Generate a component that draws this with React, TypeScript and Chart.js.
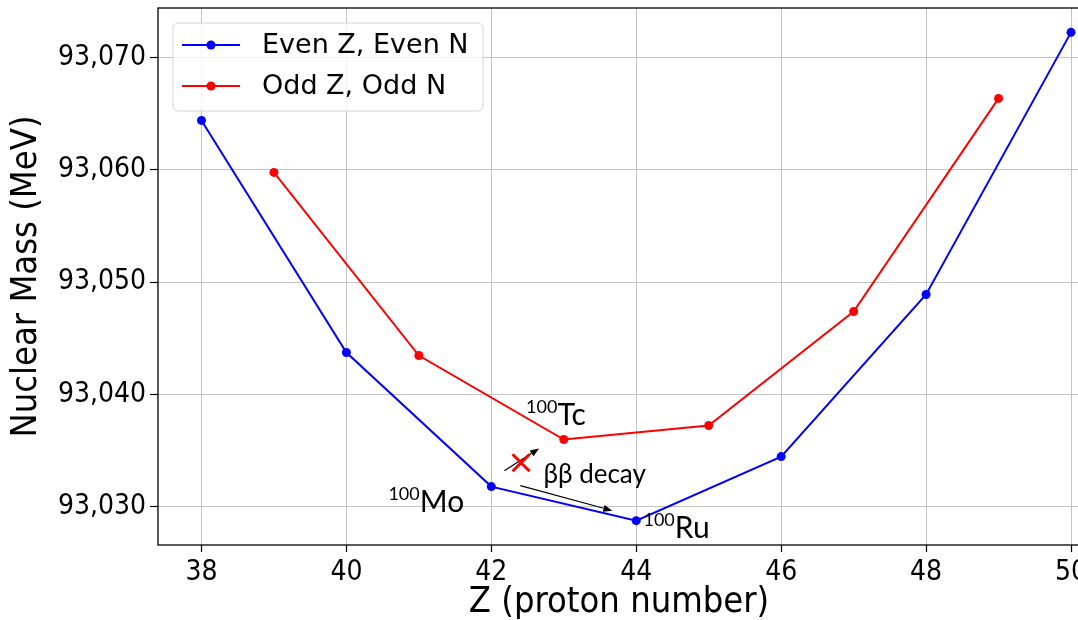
import React, { useEffect, useRef } from "react";
import { Chart, registerables } from "chart.js";

Chart.register(...registerables);

// ---- data ----
const evenZ = [38, 40, 42, 44, 46, 48, 50];
const evenMass = [93064.39, 93043.72, 93031.78, 93028.75, 93034.45, 93048.89, 93072.23];
const oddZ = [39, 41, 43, 45, 47, 49];
const oddMass = [93059.76, 93043.45, 93035.97, 93037.22, 93047.37, 93066.35];
const xTicks = [38, 40, 42, 44, 46, 48, 50];
const yTicks = [93030, 93040, 93050, 93060, 93070];
const seriesLabels = ["Even Z, Even N", "Odd Z, Odd N"];
const seriesColors = ["#0000ff", "#ff0000"];
const xTitle = "Z (proton number)";
const yTitle = "Nuclear Mass (MeV)";

// annotations in data coordinates
const nuclideLabels = [
  { sup: "100", base: "Tc", x: 42.48, y: 93037.3 },
  { sup: "100", base: "Mo", x: 40.58, y: 93029.55 },
  { sup: "100", base: "Ru", x: 44.1, y: 93027.24 },
];
const decayText = { text: "ββ decay", x: 42.72, y: 93032.14 };
const forbiddenMark = { x: 42.41, y: 93033.9 };
const arrows = [
  { x1: 42.18, y1: 93033.2, x2: 42.66, y2: 93035.17 },
  { x1: 42.4, y1: 93031.87, x2: 43.67, y2: 93029.64 },
];

const COND = '"DejaVu Sans Condensed", "DejaVu Sans", sans-serif';
const NORMAL = '"DejaVu Sans", sans-serif';
const LABEL_FONT = 'Lato, "Open Sans", sans-serif';

const frame = {
  id: "frame",
  beforeDatasetsDraw(chart: any) {
    const { ctx, chartArea: a } = chart;
    ctx.save();
    ctx.strokeStyle = "#000";
    ctx.lineWidth = 1.3;
    ctx.strokeRect(a.left, a.top, a.right - a.left, a.bottom - a.top);
    ctx.restore();
  },
};

const annotations = {
  id: "annotations",
  afterDatasetsDraw(chart: any) {
    const { ctx } = chart;
    const xs = chart.scales.x;
    const ys = chart.scales.y;
    ctx.save();
    ctx.strokeStyle = "#000";
    ctx.fillStyle = "#000";
    ctx.lineWidth = 1.2;
    arrows.forEach((a) => {
      const x1 = xs.getPixelForValue(a.x1);
      const y1 = ys.getPixelForValue(a.y1);
      const x2 = xs.getPixelForValue(a.x2);
      const y2 = ys.getPixelForValue(a.y2);
      const ang = Math.atan2(y2 - y1, x2 - x1);
      const hl = 9;
      const hw = 3.5;
      const bx = x2 - hl * Math.cos(ang);
      const by = y2 - hl * Math.sin(ang);
      ctx.beginPath();
      ctx.moveTo(x1, y1);
      ctx.lineTo(bx, by);
      ctx.stroke();
      ctx.beginPath();
      ctx.moveTo(x2, y2);
      ctx.lineTo(bx + hw * Math.sin(ang), by - hw * Math.cos(ang));
      ctx.lineTo(bx - hw * Math.sin(ang), by + hw * Math.cos(ang));
      ctx.closePath();
      ctx.fill();
    });
    const mx = xs.getPixelForValue(forbiddenMark.x);
    const my = ys.getPixelForValue(forbiddenMark.y);
    const s = 8.5;
    ctx.strokeStyle = "#ff0000";
    ctx.lineWidth = 3;
    ctx.beginPath();
    ctx.moveTo(mx - s, my - s);
    ctx.lineTo(mx + s, my + s);
    ctx.moveTo(mx + s, my - s);
    ctx.lineTo(mx - s, my + s);
    ctx.stroke();
    ctx.fillStyle = "#000";
    ctx.textBaseline = "alphabetic";
    ctx.textAlign = "left";
    nuclideLabels.forEach((l) => {
      const px = xs.getPixelForValue(l.x);
      const py = ys.getPixelForValue(l.y);
      ctx.font = `18px ${LABEL_FONT}`;
      ctx.fillText(l.sup, px, py - 12);
      const w = ctx.measureText(l.sup).width;
      ctx.font = `30px ${LABEL_FONT}`;
      ctx.fillText(l.base, px + w, py);
    });
    ctx.font = `26px ${LABEL_FONT}`;
    ctx.fillText(decayText.text, xs.getPixelForValue(decayText.x), ys.getPixelForValue(decayText.y));
    ctx.restore();
  },
};

const legend = {
  id: "customLegend",
  afterDraw(chart: any) {
    const { ctx } = chart;
    const bx = 173, by = 23, bw = 310, bh = 88, r = 5;
    ctx.save();
    ctx.beginPath();
    ctx.moveTo(bx + r, by);
    ctx.arcTo(bx + bw, by, bx + bw, by + bh, r);
    ctx.arcTo(bx + bw, by + bh, bx, by + bh, r);
    ctx.arcTo(bx, by + bh, bx, by, r);
    ctx.arcTo(bx, by, bx + bw, by, r);
    ctx.closePath();
    ctx.fillStyle = "rgba(255,255,255,0.8)";
    ctx.fill();
    ctx.strokeStyle = "#d4d4d4";
    ctx.lineWidth = 1;
    ctx.stroke();
    const rows = [45, 86];
    chart.data.datasets.forEach((ds: any, i: number) => {
      const yy = rows[i];
      ctx.strokeStyle = ds.borderColor;
      ctx.lineWidth = 2;
      ctx.beginPath();
      ctx.moveTo(182, yy);
      ctx.lineTo(240, yy);
      ctx.stroke();
      ctx.fillStyle = ds.borderColor;
      ctx.beginPath();
      ctx.arc(211, yy, 4.5, 0, Math.PI * 2);
      ctx.fill();
      ctx.fillStyle = "#000";
      ctx.font = `27px ${NORMAL}`;
      ctx.textBaseline = "middle";
      ctx.textAlign = "left";
      ctx.fillText(ds.label, 262, yy + 1);
    });
    ctx.restore();
  },
};

export default function App() {
  const ref = useRef<HTMLCanvasElement | null>(null);
  useEffect(() => {
    if (!ref.current) return;
    const chart = new Chart(ref.current, {
      type: "line",
      data: {
        datasets: [
          {
            label: seriesLabels[0],
            data: evenZ.map((z, i) => ({ x: z, y: evenMass[i] })),
            borderColor: seriesColors[0],
            backgroundColor: seriesColors[0],
            borderWidth: 2,
            pointRadius: 4.5,
            pointBorderWidth: 0,
            pointBackgroundColor: seriesColors[0],
            tension: 0,
          },
          {
            label: seriesLabels[1],
            data: oddZ.map((z, i) => ({ x: z, y: oddMass[i] })),
            borderColor: seriesColors[1],
            backgroundColor: seriesColors[1],
            borderWidth: 2,
            pointRadius: 4.5,
            pointBorderWidth: 0,
            pointBackgroundColor: seriesColors[1],
            tension: 0,
          },
        ],
      },
      options: {
        responsive: false,
        animation: false,
        devicePixelRatio: 1,
        layout: { autoPadding: false, padding: { top: 8, left: 0, right: 0, bottom: 0 } },
        plugins: { legend: { display: false }, tooltip: { enabled: false } },
        scales: {
          x: {
            type: "linear",
            min: 37.4,
            max: 50.124,
            afterBuildTicks: (s: any) => {
              s.ticks = xTicks.map((v) => ({ value: v }));
            },
            afterFit: (s: any) => {
              s.height = 75;
              s.paddingLeft = 0;
              s.paddingRight = 0;
            },
            ticks: {
              color: "#000",
              font: { family: COND, size: 28 },
              padding: 4,
              maxRotation: 0,
              autoSkip: false,
              callback: (v: any) => String(v),
            },
            grid: { color: "#c4c4c4", lineWidth: 1, tickLength: 7, tickColor: "#000", tickWidth: 1.2 },
            border: { display: false },
            title: {
              display: true,
              text: xTitle,
              color: "#000",
              font: { family: COND, size: 36, lineHeight: 1 },
              padding: { top: 0, bottom: -1 },
            },
          },
          y: {
            type: "linear",
            min: 93026.58,
            max: 93074.4,
            afterBuildTicks: (s: any) => {
              s.ticks = yTicks.map((v) => ({ value: v }));
            },
            afterFit: (s: any) => {
              s.width = 158;
              s.paddingTop = 0;
              s.paddingBottom = 0;
            },
            ticks: {
              color: "#000",
              font: { family: COND, size: 28 },
              padding: 4,
              callback: (v: any) => Number(v).toLocaleString("en-US"),
            },
            grid: { color: "#c4c4c4", lineWidth: 1, tickLength: 8, tickColor: "#000", tickWidth: 1.2 },
            border: { display: false },
            title: {
              display: true,
              text: yTitle,
              color: "#000",
              font: { family: COND, size: 36, lineHeight: 1 },
              padding: { top: 9, bottom: 0 },
            },
          },
        },
      },
      plugins: [frame, annotations, legend],
    } as any);
    return () => chart.destroy();
  }, []);
  return (
    <div
      style={{
        position: "fixed",
        left: 0,
        top: 0,
        width: 1078,
        height: 620,
        overflow: "hidden",
        background: "#fff",
      }}
    >
      <canvas ref={ref} width={1080} height={620} style={{ width: 1080, height: 620, display: "block" }} />
    </div>
  );
}
